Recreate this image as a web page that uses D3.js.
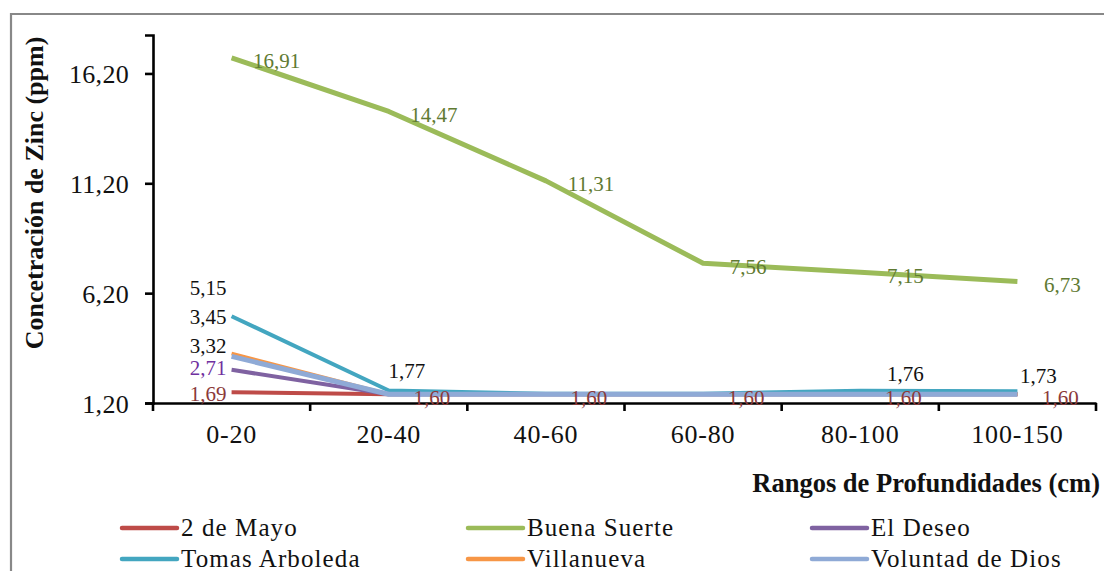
<!DOCTYPE html>
<html><head><meta charset="utf-8">
<script src="https://cdn.jsdelivr.net/npm/d3@7"></script>
<style>
html,body{margin:0;padding:0;background:#fff;}
svg{display:block;}
svg text{font-family:"Liberation Serif","Tinos","DejaVu Serif",serif !important;}
</style></head>
<body><svg id="c" width="1104" height="571"></svg>
<script>
// ---- data ----
const categories = ["0-20","20-40","40-60","60-80","80-100","100-150"];
const seriesNames = ["2 de Mayo","Buena Suerte","El Deseo","Tomas Arboleda","Villanueva","Voluntad de Dios"];
const dosDeMayo      = [1.69, 1.60, 1.60, 1.60, 1.60, 1.60];
const buenaSuerte    = [16.91, 14.47, 11.31, 7.56, 7.15, 6.73];
const elDeseo        = [2.71, 1.60, 1.60, 1.60, 1.60, 1.60];
const tomasArboleda  = [5.15, 1.77, 1.62, 1.62, 1.76, 1.73];
const villanueva     = [3.45, 1.60, 1.60, 1.60, 1.60, 1.60];
const voluntadDeDios = [3.32, 1.60, 1.60, 1.60, 1.60, 1.60];
const yTicks = [1.20, 6.20, 11.20, 16.20];
// which points carry a data label
const labelShown = [
  [true,true,true,true,true,true],
  [true,true,true,true,true,true],
  [true,false,false,false,false,false],
  [true,true,false,false,true,true],
  [true,false,false,false,false,false],
  [true,false,false,false,false,false]
];
const values = [dosDeMayo,buenaSuerte,elDeseo,tomasArboleda,villanueva,voluntadDeDios];

(function(){
// ---- styles ----
const colors = ["#BE4B48","#9BBB59","#7F62A1","#43A6C0","#F79646","#8FAAD6"];
const labelColors = ["#8B3A3A","#5F7A32","#7030A0","#111","#111","#111"];
const widths = [4,5,4,4,3.5,5];

const svg = d3.select("#c");
const fmt = v => d3.format(".2f")(v).replace(".", ",");

// outer frame
svg.append("path").attr("d","M11,600 L11,14 L1110,14")
  .attr("fill","none").attr("stroke","#888").attr("stroke-width",2.2);

const pL = 153, pR = 1096, pB = 403, pT = 35;
const x = d3.scaleBand().domain(categories).range([pL,pR]).padding(0);
const y = d3.scaleLinear().domain([1.2,17.95]).range([pB,pT]);
const cx = c => x(c) + x.bandwidth()/2;

// y axis
const yAxis = svg.append("g").attr("transform",`translate(${pL},0)`)
  .call(d3.axisLeft(y).tickValues(yTicks).tickFormat(fmt).tickSize(8).tickPadding(16));
yAxis.select(".domain").attr("stroke","#000").attr("stroke-width",2.6);
yAxis.selectAll(".tick line").attr("stroke","#000").attr("stroke-width",2.6);
yAxis.selectAll(".tick text").attr("font-size",26).attr("fill","#111").attr("dy","0.36em")
  .attr("letter-spacing","0.3");

// x axis
const xAxis = svg.append("g").attr("transform",`translate(0,${pB})`)
  .call(d3.axisBottom(x).tickSize(0).tickPadding(22));
xAxis.select(".domain").attr("stroke","#000").attr("stroke-width",2.6);
xAxis.selectAll(".tick text").attr("font-size",26).attr("fill","#111").attr("letter-spacing","0.8");
const bounds = categories.map(c => x(c)).concat([x(categories[categories.length-1]) + x.bandwidth()]);
xAxis.selectAll("line.bt").data(bounds).enter().append("line").attr("class","bt")
  .attr("x1",d=>d).attr("x2",d=>d).attr("y1",0).attr("y2",8)
  .attr("stroke","#000").attr("stroke-width",2.6);

// lines
const line = d3.line().x((d,i)=>cx(categories[i])).y(d=>y(d));
values.forEach((vals,s)=>{
  svg.append("path").datum(vals).attr("d",line)
    .attr("fill","none").attr("stroke",colors[s]).attr("stroke-width",widths[s])
    .attr("stroke-linejoin","round");
});

// label placement (offsets from the point)
function place(s,i){
  if(s===1) return {anchor:"middle", dx:45, dy:3};
  if(i===0){
    const dyFirst = [1,0,-2,-29,-37,-11][s];
    return {anchor:"end", dx:-5, dy:dyFirst};
  }
  if(s===3){
    return {anchor:"middle", dx:[0,18,0,0,45,21][i], dy:[0,-20,0,0,-17,-16][i]};
  }
  return {anchor:"middle", dx:43, dy:3};
}
values.forEach((vals,s)=>{
  vals.forEach((v,i)=>{
    if(!labelShown[s][i]) return;
    const p = place(s,i);
    svg.append("text")
      .attr("x", cx(categories[i]) + p.dx)
      .attr("y", y(v) + p.dy)
      .attr("dy","0.35em")
      .attr("text-anchor", p.anchor)
      .attr("font-size", 21)
      .attr("fill", labelColors[s])
      .text(fmt(v));
  });
});

// axis titles
svg.append("text").attr("x",1100).attr("y",492).attr("text-anchor","end")
  .attr("font-size",26.5).attr("font-weight","bold").attr("fill","#111")
  .text("Rangos de Profundidades (cm)");
svg.append("text").attr("transform","translate(43,193) rotate(-90)")
  .attr("text-anchor","middle").attr("font-size",26).attr("font-weight","bold").attr("fill","#111")
  .text("Concetración de Zinc (ppm)");

// legend
const legX = [122,468,812], legY = [528,559];
seriesNames.forEach((n,s)=>{
  const lx = legX[s%3], ly = legY[Math.floor(s/3)];
  const g = svg.append("g");
  g.append("line").attr("x1",lx).attr("x2",lx+55).attr("y1",ly).attr("y2",ly)
    .attr("stroke",colors[s]).attr("stroke-width",4.5).attr("stroke-linecap","round");
  g.append("text").attr("x",lx+59).attr("y",ly+8).attr("font-size",25)
    .attr("letter-spacing","1.1").attr("fill","#111").text(n);
});
})();
</script></body></html>
